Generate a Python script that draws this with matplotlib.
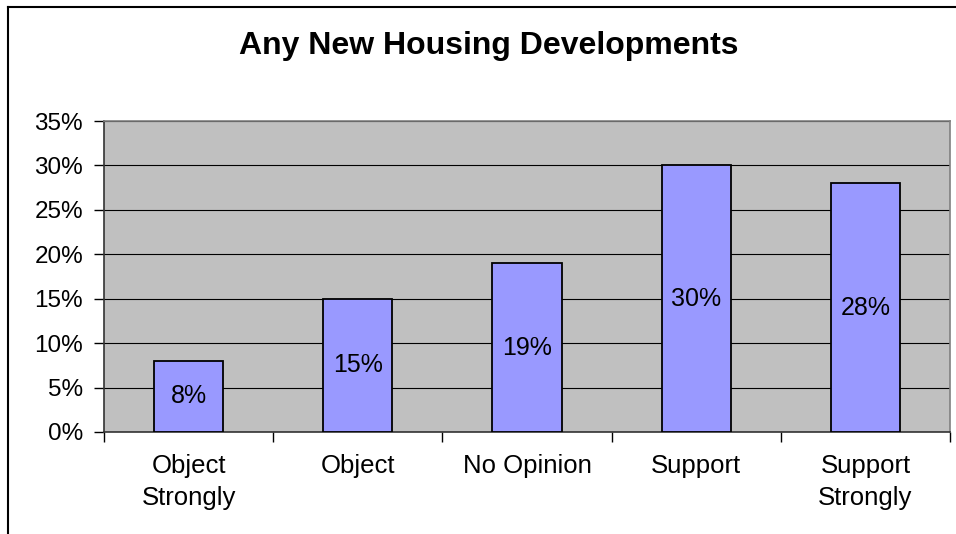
import matplotlib
matplotlib.use('Agg')
import matplotlib.pyplot as plt
from matplotlib.lines import Line2D

# data
categories = ['Object\nStrongly', 'Object', 'No Opinion', 'Support', 'Support\nStrongly']
values = [8, 15, 19, 30, 28]
yticks = [0, 5, 10, 15, 20, 25, 30, 35]
ytick_labels = ['0%', '5%', '10%', '15%', '20%', '25%', '30%', '35%']

plt.rcParams['font.family'] = ['Liberation Sans', 'DejaVu Sans']

fig = plt.figure(figsize=(9.56, 5.34), dpi=100)
fig.patch.set_facecolor('white')

# frame around chart (left and top visible)
fig.add_artist(Line2D([8/956, 8/956], [0, 1 - 7/534], transform=fig.transFigure, color='black', lw=1.5))
fig.add_artist(Line2D([8/956, 1], [1 - 7/534, 1 - 7/534], transform=fig.transFigure, color='black', lw=1.5))

ax = fig.add_axes([104/956, 1 - 432/534, (950 - 104)/956, (432 - 121)/534])
ax.set_facecolor('#C0C0C0')

x = list(range(len(categories)))
bars = ax.bar(x, values, width=0.41, color='#9999FF', edgecolor='black', linewidth=1.3, zorder=3)
for b, v in zip(bars, values):
    ax.text(b.get_x() + b.get_width()/2, v/2, f'{v}%', ha='center', va='center', fontsize=18, zorder=4)

ax.set_xlim(-0.5, len(categories) - 0.5)
ax.set_ylim(0, 35)
ax.set_yticks(yticks)
ax.set_yticklabels(ytick_labels, fontsize=17.5)
ax.yaxis.grid(True, color='black', linewidth=0.8, zorder=1)
ax.set_axisbelow(True)

ax.set_xticks([i - 0.5 for i in range(len(categories) + 1)], minor=False)
ax.set_xticklabels([])
ax.set_xticks(x, minor=True)
ax.set_xticklabels(categories, minor=True, fontsize=18.5, linespacing=1.4)
ax.tick_params(axis='x', which='minor', length=0, pad=16)
ax.tick_params(axis='x', which='major', length=7, width=1, direction='out')
ax.tick_params(axis='y', length=7, width=1, direction='out', pad=8)

ax.spines['left'].set_color('#333333')
ax.spines['bottom'].set_color('#333333')
ax.spines['top'].set_color('#808080')
ax.spines['right'].set_color('#808080')
for s in ax.spines.values():
    s.set_linewidth(1.2)

fig.text(489/956, 1 - 46/534, 'Any New Housing Developments', ha='center', va='center',
         fontsize=23, fontweight='bold')

fig.savefig('out.png', dpi=100)
